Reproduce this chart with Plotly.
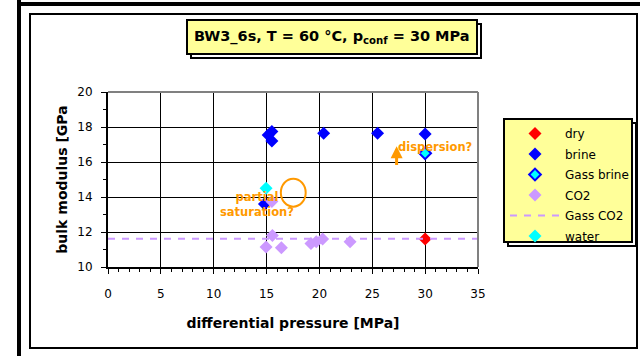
import plotly.graph_objects as go

# ---------------- data ----------------
dry_x = [30.0]
dry_y = [11.6]

brine_x = [15.15, 15.5, 15.5, 20.4, 25.5, 30.0, 14.8]
brine_y = [17.55, 17.75, 17.2, 17.65, 17.65, 17.6, 13.6]

gass_brine_x = [30.0]
gass_brine_y = [16.5]

co2_x = [15.5, 15.55, 14.95, 16.4, 19.2, 19.7, 20.3, 22.9]
co2_y = [13.75, 11.8, 11.15, 11.1, 11.35, 11.45, 11.6, 11.45]

gass_co2_x = [0, 35]
gass_co2_y = [11.62, 11.62]

water_x = [14.95]
water_y = [14.5]

x_ticks = [0, 5, 10, 15, 20, 25, 30, 35]
y_ticks = [10, 12, 14, 16, 18, 20]

# ---------------- layout geometry ----------------
W, H = 640, 356
L, R, T, B = 108, 478, 92, 267
PW, PH = R - L, B - T


def px(x):
    return (x - L) / PW


def py(y):
    return (B - y) / PH


FONT = "DejaVu Sans"
ORANGE = "#FF9900"
YELLOW = "#FFFF99"

fig = go.Figure()

fig.add_trace(go.Scatter(x=dry_x, y=dry_y, mode="markers", name="dry", legendgroup="a",
                         marker=dict(symbol="diamond", size=10, color="#FF0000")))
fig.add_trace(go.Scatter(x=brine_x, y=brine_y, mode="markers", name="brine", legendgroup="b",
                         marker=dict(symbol="diamond", size=10, color="#0000FF")))
fig.add_trace(go.Scatter(x=gass_brine_x, y=gass_brine_y, mode="markers", name="Gass brine", legendgroup="c",
                         marker=dict(symbol="diamond", size=9, color="#00FFFF",
                                     line=dict(color="#0000FF", width=2))))
fig.add_trace(go.Scatter(x=co2_x, y=co2_y, mode="markers", name="CO2", legendgroup="d",
                         marker=dict(symbol="diamond", size=10, color="#CC99FF")))
fig.add_trace(go.Scatter(x=gass_co2_x, y=gass_co2_y, mode="lines", name="Gass CO2", legendgroup="e",
                         line=dict(color="#CC99FF", width=2, dash="7px,7px")))
fig.add_trace(go.Scatter(x=water_x, y=water_y, mode="markers", name="water", legendgroup="f",
                         marker=dict(symbol="diamond", size=10, color="#00FFFF")))

axis_common = dict(
    showline=True, linecolor="black", linewidth=2,
    showgrid=True, gridcolor="black", gridwidth=1,
    zeroline=False, ticks="outside", ticklen=5, tickcolor="black", tickwidth=1,
    tickfont=dict(family=FONT, size=12, color="black"),
    automargin=False,
)

fig.update_xaxes(
    range=[0, 35], tickvals=x_ticks, ticklabelstandoff=10,
    minor=dict(dtick=1, ticks="outside", ticklen=3, tickcolor="black", showgrid=False),
    title=dict(text="<b>differential pressure [MPa]</b>", font=dict(family=FONT, size=14, color="black"),
               standoff=18),
    **axis_common,
)
fig.update_yaxes(
    range=[10, 20], tickvals=y_ticks, ticklabelstandoff=6,
    minor=dict(dtick=1, ticks="outside", ticklen=3, tickcolor="black", showgrid=False),
    title=dict(text="<b>bulk modulus [GPa</b>", font=dict(family=FONT, size=14, color="black"),
               standoff=6),
    **axis_common,
)

shapes = [
    # outer frame (top & left visible)
    dict(type="line", xref="paper", yref="paper", x0=px(19), x1=px(19), y0=py(0), y1=py(356),
         line=dict(color="black", width=4)),
    dict(type="line", xref="paper", yref="paper", x0=px(17), x1=px(640), y0=py(4), y1=py(4),
         line=dict(color="black", width=4)),
    # inner chart-area frame
    dict(type="rect", xref="paper", yref="paper", x0=px(30), x1=px(637), y0=py(14), y1=py(348),
         line=dict(color="black", width=2)),
    # grey plot border top/right
    dict(type="line", xref="paper", yref="paper", x0=0, x1=1, y0=1, y1=1,
         line=dict(color="#808080", width=2)),
    dict(type="line", xref="paper", yref="paper", x0=1, x1=1, y0=0, y1=1,
         line=dict(color="#808080", width=2)),
    # title box shadow + box
    dict(type="rect", xref="paper", yref="paper", x0=px(191), x1=px(481), y0=py(24), y1=py(58),
         line=dict(color="black", width=2)),
    dict(type="rect", xref="paper", yref="paper", x0=px(187), x1=px(477), y0=py(20), y1=py(54),
         line=dict(color="black", width=2), fillcolor=YELLOW),
    # legend box shadow + box
    dict(type="rect", xref="paper", yref="paper", x0=px(508), x1=px(636), y0=py(123), y1=py(246),
         line=dict(color="black", width=2)),
    dict(type="rect", xref="paper", yref="paper", x0=px(504), x1=px(632), y0=py(119), y1=py(242),
         line=dict(color="black", width=2), fillcolor=YELLOW),
    # orange ellipse
    dict(type="circle", xref="x", yref="y", x0=16.35, x1=18.7, y0=13.45, y1=15.05,
         line=dict(color=ORANGE, width=2)),
]

annotations = [
    dict(xref="paper", yref="paper", x=px(332), y=py(37), xanchor="center", yanchor="middle",
         text="<b>BW3_6s, T = 60 °C, p<sub>conf</sub> = 30 MPa</b>", showarrow=False,
         font=dict(family=FONT, size=14.5, color="black")),
    dict(xref="x", yref="y", x=30.95, y=16.84, xanchor="center", yanchor="middle",
         text="<b>dispersion?</b>", showarrow=False,
         font=dict(family=FONT, size=11.5, color=ORANGE)),
    dict(xref="x", yref="y", x=14.07, y=13.6, xanchor="center", yanchor="middle",
         text="<b>partial<br>saturation?</b>", showarrow=False,
         font=dict(family=FONT, size=11.5, color=ORANGE)),
    dict(xref="x", yref="y", x=27.3, y=16.9, axref="x", ayref="y", ax=27.3, ay=15.75,
         text="", showarrow=True, arrowhead=2, arrowsize=0.8, arrowwidth=3, arrowcolor=ORANGE),
]

fig.update_layout(
    width=W, height=H,
    margin=dict(l=L, r=W - R, t=T, b=H - B, autoexpand=False),
    paper_bgcolor="white", plot_bgcolor="white",
    shapes=shapes, annotations=annotations,
    showlegend=True,
    legend=dict(x=px(505), y=py(119), xanchor="left", yanchor="top",
                bgcolor="rgba(0,0,0,0)", borderwidth=0,
                font=dict(family=FONT, size=12, color="black"),
                itemwidth=50, tracegroupgap=1.5, traceorder="grouped"),
    font=dict(family=FONT),
)

fig.write_html("out.html", config={"displayModeBar": False},
               post_script="document.body.style.margin='0px';document.body.style.padding='0px';")
